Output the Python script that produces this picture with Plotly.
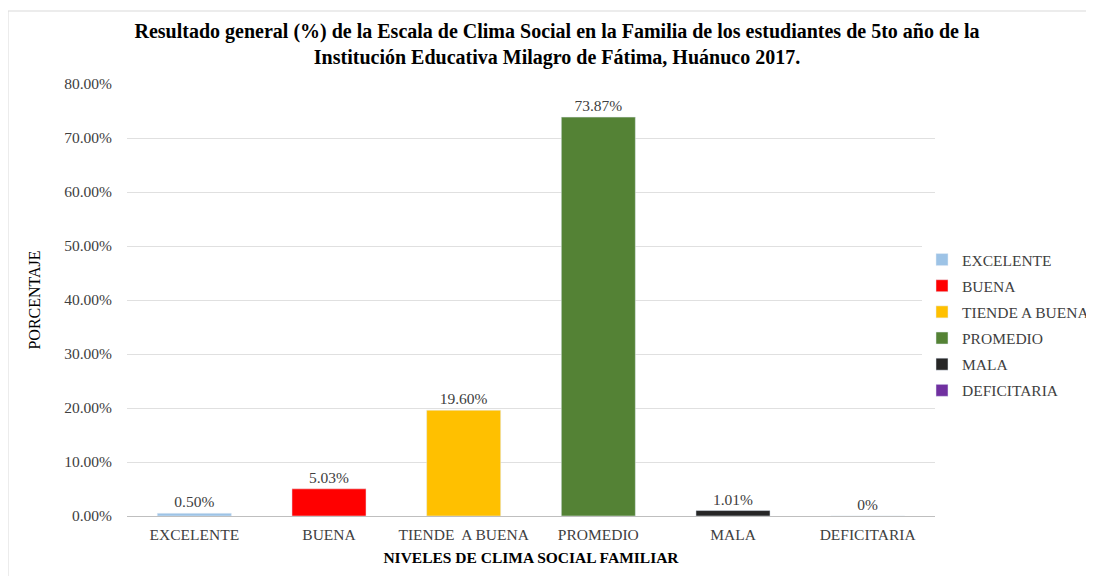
import plotly.graph_objects as go

categories = ["EXCELENTE", "BUENA", "TIENDE  A BUENA", "PROMEDIO", "MALA", "DEFICITARIA"]
legend_names = ["EXCELENTE", "BUENA", "TIENDE A BUENA", "PROMEDIO", "MALA", "DEFICITARIA"]
values = [0.0050, 0.0503, 0.1960, 0.7387, 0.0101, 0.0]
labels = ["0.50%", "5.03%", "19.60%", "73.87%", "1.01%", "0%"]
colors = ["#9DC3E6", "#FF0000", "#FFC000", "#548235", "#262626", "#7030A0"]

FONT = "Liberation Serif"
OFF = 8  # page body margin
fig = go.Figure()
for cat, name, v, lab, c in zip(categories, legend_names, values, labels, colors):
    fig.add_trace(go.Bar(
        x=[cat], y=[v], name=name, marker_color=c, width=0.55,
        legendgroup=name,
        text=[lab], textposition="outside", cliponaxis=False,
        textfont=dict(family=FONT, size=15.5, color="#404040"),
    ))

L, R, T, B = 127 - OFF, 935 - OFF, 84 - OFF, 516 - OFF
W, H = 1094 - OFF, 576 - OFF
def px(x):
    return (x - OFF - L) / (R - L)
def py(y):
    return (B - (y - OFF)) / (B - T)

fig.update_layout(
    width=W, height=H,
    margin=dict(l=L, r=W - R, t=T, b=H - B, autoexpand=False),
    paper_bgcolor="white", plot_bgcolor="white",
    barmode="overlay",
    font=dict(family=FONT, size=15.5, color="#404040"),
    title=dict(
        text="Resultado general (%) de la Escala de Clima Social en la Familia de los estudiantes de 5to año de la<br>Institución Educativa Milagro de Fátima, Huánuco 2017.",
        xref="container", x=(557 - OFF) / W, xanchor="center",
        yref="container", y=1 - (38 - OFF) / H, yanchor="middle",
        font=dict(family=FONT, size=20, color="#000000", weight="bold"),
    ),
    xaxis=dict(
        categoryorder="array", categoryarray=categories,
        showline=True, linecolor="#bfbfbf", linewidth=1,
        ticks="", ticklabelstandoff=4,
        tickfont=dict(family=FONT, size=15.5, color="#404040"),
        title=dict(text="<b>NIVELES DE CLIMA SOCIAL FAMILIAR</b>",
                   font=dict(family=FONT, size=15.5, color="#000000"), standoff=10),
    ),
    yaxis=dict(
        range=[0, 0.8], dtick=0.1, tickformat=".2%",
        showgrid=True, gridcolor="#e0e0e0", zeroline=False,
        ticks="", ticklabelstandoff=14,
        tickfont=dict(family=FONT, size=15.5, color="#404040"),
        title=dict(text="PORCENTAJE", font=dict(family=FONT, size=16, color="#000000"), standoff=19),
    ),
    legend=dict(
        x=px(922), y=py(243), xanchor="left", yanchor="top",
        font=dict(family=FONT, size=15.5, color="#404040"),
        itemwidth=30, tracegroupgap=3,
    ),
    showlegend=True,
)
fig.add_shape(type="rect", xref="paper", yref="paper",
              x0=px(8), x1=px(1110), y0=py(600), y1=py(11),
              line=dict(color="#d9d9d9", width=1), fillcolor="rgba(0,0,0,0)", layer="below")

fig.write_html("out.html")
